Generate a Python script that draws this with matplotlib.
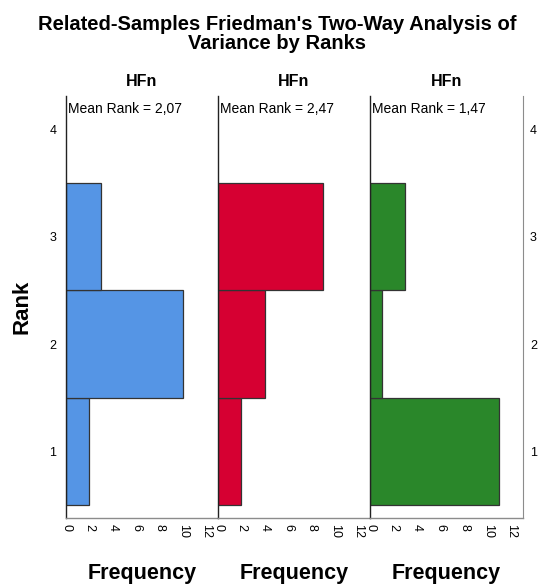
import matplotlib
matplotlib.use("Agg")
import matplotlib.pyplot as plt

plt.rcParams['font.family'] = ['Liberation Sans', 'DejaVu Sans']

# Friedman rank frequencies per variable (N = 15)
ranks = [1, 2, 3]
panel_titles = ["HFn", "HFn", "HFn"]
mean_ranks = ["2,07", "2,47", "1,47"]
freq_blue = [2, 10, 3]
freq_red = [2, 4, 9]
freq_green = [11, 1, 3]
freq_ticks = [0, 2, 4, 6, 8, 10, 12]
rank_ticks = [1, 2, 3, 4]

series = [freq_blue, freq_red, freq_green]
colors = ["#5595E5", "#D60032", "#2A872A"]

W, H = 557, 584
fig = plt.figure(figsize=(W / 100, H / 100), dpi=100)

x_edges = [66, 218, 370, 523]
top, bottom = 96, 518

for i in range(3):
    left = x_edges[i] / W
    width = (x_edges[i + 1] - x_edges[i]) / W
    ax = fig.add_axes([left, (H - bottom) / H, width, (bottom - top) / H])
    ax.barh(ranks, series[i], height=1.0, color=colors[i],
            edgecolor="#333333", linewidth=0.9, align="center", zorder=2)
    ax.set_xlim(0, 13)
    ax.set_ylim(0.38, 4.31)
    ax.set_xticks(freq_ticks)
    ax.set_xticklabels([str(t) for t in freq_ticks], rotation=-90, fontsize=9)
    ax.tick_params(axis='x', length=0, pad=4)
    ax.set_yticks(rank_ticks)
    ax.tick_params(axis='y', length=0)
    for s in ['top', 'right']:
        ax.spines[s].set_visible(False)
    ax.spines['left'].set_color('#222222')
    ax.spines['left'].set_linewidth(1.0)
    ax.spines['bottom'].set_color('#8c8c8c')
    ax.spines['bottom'].set_linewidth(1.0)
    ax.set_title(panel_titles[i], fontsize=11.5, fontweight='bold', pad=7)
    ax.text(0.01, 0.985, "Mean Rank = " + mean_ranks[i], transform=ax.transAxes,
            fontsize=10, ha='left', va='top')
    ax.set_xlabel("Frequency", fontsize=15.5, fontweight='bold', labelpad=18.5)
    if i == 0:
        ax.set_yticklabels([str(t) for t in rank_ticks], fontsize=9)
        ax.tick_params(axis='y', pad=7)
        ax.set_ylabel("Rank", fontsize=16, fontweight='bold', labelpad=12)
    elif i == 2:
        ax.spines['right'].set_visible(True)
        ax.spines['right'].set_color('#8c8c8c')
        ax.yaxis.tick_right()
        ax.set_yticklabels([str(t) for t in rank_ticks], fontsize=9)
        ax.tick_params(axis='y', pad=5, length=0)
    else:
        ax.set_yticklabels([])

fig.text(0.497, 0.975, "Related-Samples Friedman's Two-Way Analysis of\nVariance by Ranks",
         ha='center', va='top', fontsize=14.5, fontweight='bold', linespacing=1.0)

fig.savefig("out.png", dpi=100)
